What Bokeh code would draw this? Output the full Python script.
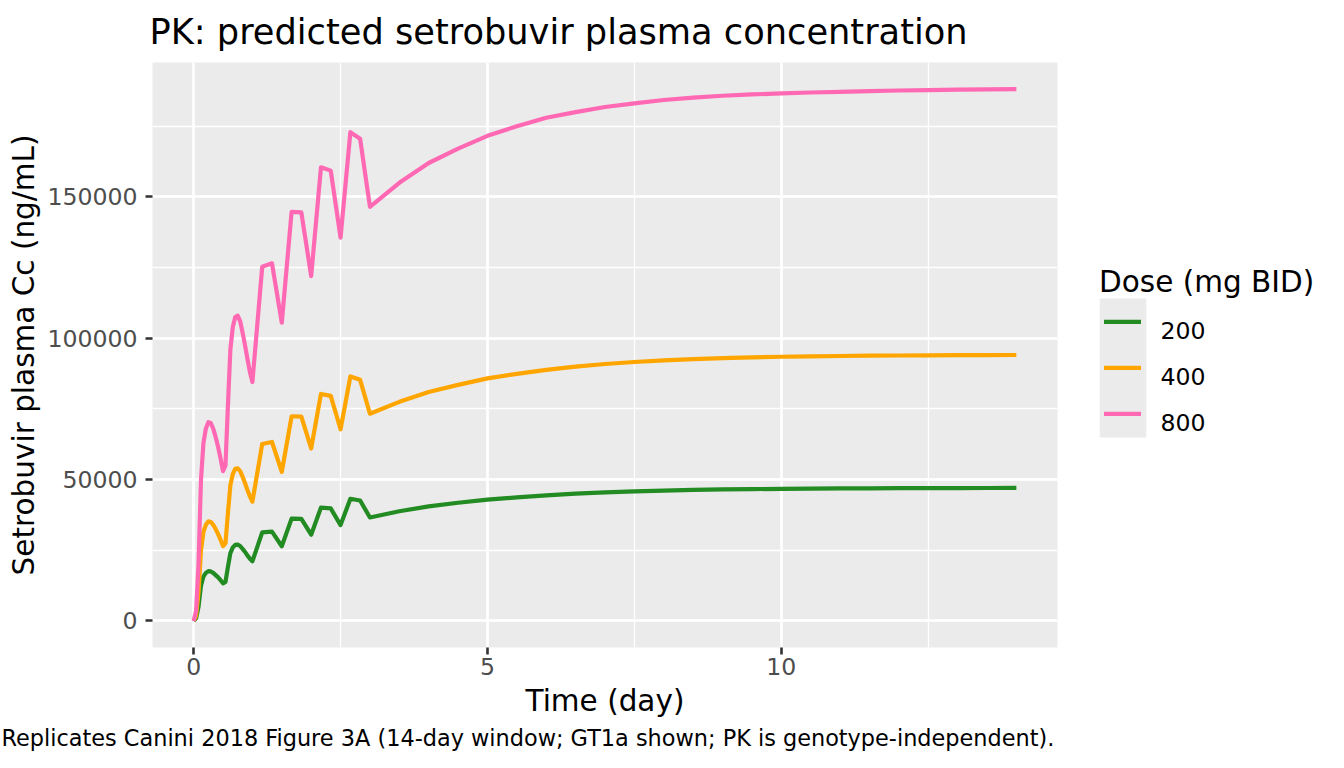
from bokeh.plotting import figure
from bokeh.models import Range1d, SingleIntervalTicker, BasicTickFormatter, Title
from bokeh.layouts import row
from bokeh.core.properties import value
from bokeh.embed import file_html
from bokeh.resources import INLINE

# ------------------------------------------------
# Datos (tiempo en dias, Cc en ng/mL)
# ------------------------------------------------
tiempo = [0, 0.042, 0.083, 0.125, 0.167, 0.208, 0.25, 0.292, 0.333, 0.375, 0.417, 0.458,
          0.5, 0.542, 0.583, 0.625, 0.667, 0.708, 0.75, 0.792, 0.833, 0.875, 0.917, 0.958,
          1.0, 1.167, 1.333, 1.5, 1.667, 1.833, 2.0, 2.167, 2.333, 2.5, 2.667, 2.833, 3.0,
          3.5, 4.0, 4.5, 5.0, 5.5, 6.0, 6.5, 7.0, 7.5, 8.0, 8.5, 9.0, 9.5, 10.0, 10.5,
          11.0, 11.5, 12.0, 12.5, 13.0, 13.5, 14.0]

cc_200 = [0, 900, 5000, 12500, 15700, 17000, 17600, 17500, 17000, 16200, 15400, 14400,
          13300, 13800, 19000, 24000, 26000, 26900, 27000, 26500, 25500, 24400, 23100, 22000,
          21100, 31300, 31600, 26400, 36200, 36100, 30500, 40100, 39800, 33900, 43200, 42600, 36600,
          38800, 40500, 41800, 42900, 43700, 44400, 45000, 45450, 45800, 46100, 46330, 46500, 46620,
          46720, 46800, 46870, 46920, 46960, 46990, 47010, 47030, 47040]

cc_400 = [0, 1750, 10000, 25000, 31500, 34000, 35200, 35000, 34000, 32500, 30700, 28700,
          26500, 27500, 38000, 48000, 52000, 53800, 54000, 53000, 51000, 48700, 46200, 44000,
          42200, 62600, 63300, 52700, 72400, 72300, 61000, 80300, 79600, 67800, 86500, 85300, 73300,
          77500, 81000, 83500, 85800, 87400, 88800, 89950, 90900, 91600, 92200, 92650, 93000, 93250,
          93450, 93600, 93720, 93820, 93900, 93960, 94010, 94050, 94080]

cc_800 = [0, 3500, 20000, 50000, 63000, 68000, 70300, 70000, 68000, 65000, 61500, 57500,
          53000, 55000, 76000, 96000, 104000, 107500, 108000, 106000, 102000, 97500, 92500, 88000,
          84500, 125300, 126500, 105500, 144700, 144500, 122000, 160500, 159300, 135600, 172900, 170600, 146500,
          155000, 162000, 167100, 171600, 175000, 178000, 180000, 181800, 183100, 184300, 185100, 185800, 186250,
          186650, 186950, 187200, 187450, 187650, 187800, 187950, 188050, 188150]

dosis = ["200", "400", "800"]
colores = ["#228B22", "#FFA500", "#FF69B4"]
series = [cc_200, cc_400, cc_800]

FUENTE = "DejaVu Sans"

# Rangos con la expansion del 5% que usa ggplot
x_min, x_max = min(tiempo), max(tiempo)
x_pad = 0.05 * (x_max - x_min)
y_max = max(max(s) for s in series)
y_pad = 0.05 * y_max

# Geometria (pixeles de la pagina)
BORDE_IZQ, BORDE_SUP, BORDE_INF = 152, 62, 121
PANEL_W, PANEL_H = 905, 585
BORDE_DER = 23
ANCHO_PRINCIPAL = BORDE_IZQ + PANEL_W + BORDE_DER
ANCHO_LEY = 1344 - ANCHO_PRINCIPAL

# ------------------------------------------------
# Figura principal
# ------------------------------------------------
p = figure(
    frame_width=PANEL_W, frame_height=PANEL_H,
    min_border_left=BORDE_IZQ, min_border_right=BORDE_DER,
    min_border_top=BORDE_SUP, min_border_bottom=BORDE_INF,
    x_range=Range1d(x_min - x_pad, x_max + x_pad),
    y_range=Range1d(-y_pad, y_max + y_pad),
    output_backend="svg", toolbar_location=None,
    background_fill_color="#EBEBEB", border_fill_color="white",
)
p.outline_line_color = None

p.title.text = "PK: predicted setrobuvir plasma concentration"
p.title.text_font = FUENTE
p.title.text_font_size = "35.2px"
p.title.text_font_style = "normal"
p.title.text_color = "black"
p.title.align = "left"
p.title.vertical_align = "top"
p.title.offset = -3
p.title.standoff = 17

p.xaxis.ticker = SingleIntervalTicker(interval=5, num_minor_ticks=2)
p.yaxis.ticker = SingleIntervalTicker(interval=50000, num_minor_ticks=2)
p.yaxis.formatter = BasicTickFormatter(use_scientific=False)

for eje in (p.xaxis, p.yaxis):
    eje.axis_line_color = None
    eje.major_tick_line_color = "#333333"
    eje.major_tick_line_width = 2.6
    eje.major_tick_out = 7
    eje.major_tick_in = 0
    eje.minor_tick_line_color = None
    eje.major_label_text_font = FUENTE
    eje.major_label_text_font_size = "23.6px"
    eje.major_label_text_color = "#4D4D4D"
    eje.axis_label_text_font = FUENTE
    eje.axis_label_text_font_size = "29.5px"
    eje.axis_label_text_font_style = "normal"
    eje.axis_label_text_color = "black"

p.xaxis.major_label_standoff = 3
p.xaxis.axis_label_standoff = 6
p.yaxis.major_label_standoff = 8
p.yaxis.axis_label_standoff = 3

p.xaxis.axis_label = "Time (day)"
p.yaxis.axis_label = "Setrobuvir plasma Cc (ng/mL)"

for g in (p.xgrid, p.ygrid):
    g.grid_line_color = "white"
    g.grid_line_width = 2.6
    g.minor_grid_line_color = "white"
    g.minor_grid_line_width = 1.3

for color, valores in zip(colores, series):
    p.line(tiempo, valores, line_color=color, line_width=4.2, line_join="round")

# Pie de figura
pie = Title(
    text="Replicates Canini 2018 Figure 3A (14-day window; GT1a shown; PK is genotype-independent).",
    align="left", offset=-151, text_font=FUENTE, text_font_size="22.4px", text_font_style="normal",
    text_color="black", standoff=4,
)
p.add_layout(pie, "below")

# ------------------------------------------------
# Leyenda estilo ggplot en una figura aparte
# (su panel queda alineado con el de la figura principal; coordenadas = pixeles de la pagina)
# ------------------------------------------------
AJUSTE_X, AJUSTE_Y = 1.5, 8
ley = figure(
    title=None, x_axis_location=None, y_axis_location=None,
    frame_width=ANCHO_LEY, frame_height=PANEL_H,
    min_border_left=0, min_border_right=0,
    min_border_top=BORDE_SUP, min_border_bottom=BORDE_INF,
    x_range=Range1d(ANCHO_PRINCIPAL + AJUSTE_X, 1344 + AJUSTE_X),
    y_range=Range1d(BORDE_SUP + PANEL_H + AJUSTE_Y, BORDE_SUP + AJUSTE_Y),
    output_backend="svg", toolbar_location=None,
    outline_line_color=None,
)
ley.grid.visible = False

ley.text([1100], [289], text=["Dose (mg BID)"], text_font=value(FUENTE),
         text_font_size="29.5px", text_baseline="alphabetic", text_color="black")
ley.quad(left=[1100.7], right=[1147.3], top=[306], bottom=[445],
         fill_color="#EBEBEB", line_color=None)

y_claves = [329.3, 375.3, 421.3]
for dosis_i, color, yk in zip(dosis, colores, y_claves):
    ley.line([1105, 1142], [yk, yk], line_color=color, line_width=4.2)
    ley.text([1161.5], [yk + 9], text=[dosis_i], text_font=value(FUENTE),
             text_font_size="23.6px", text_baseline="alphabetic", text_color="black")

layout = row(p, ley)

open("out.html", "w").write(file_html(layout, INLINE))
